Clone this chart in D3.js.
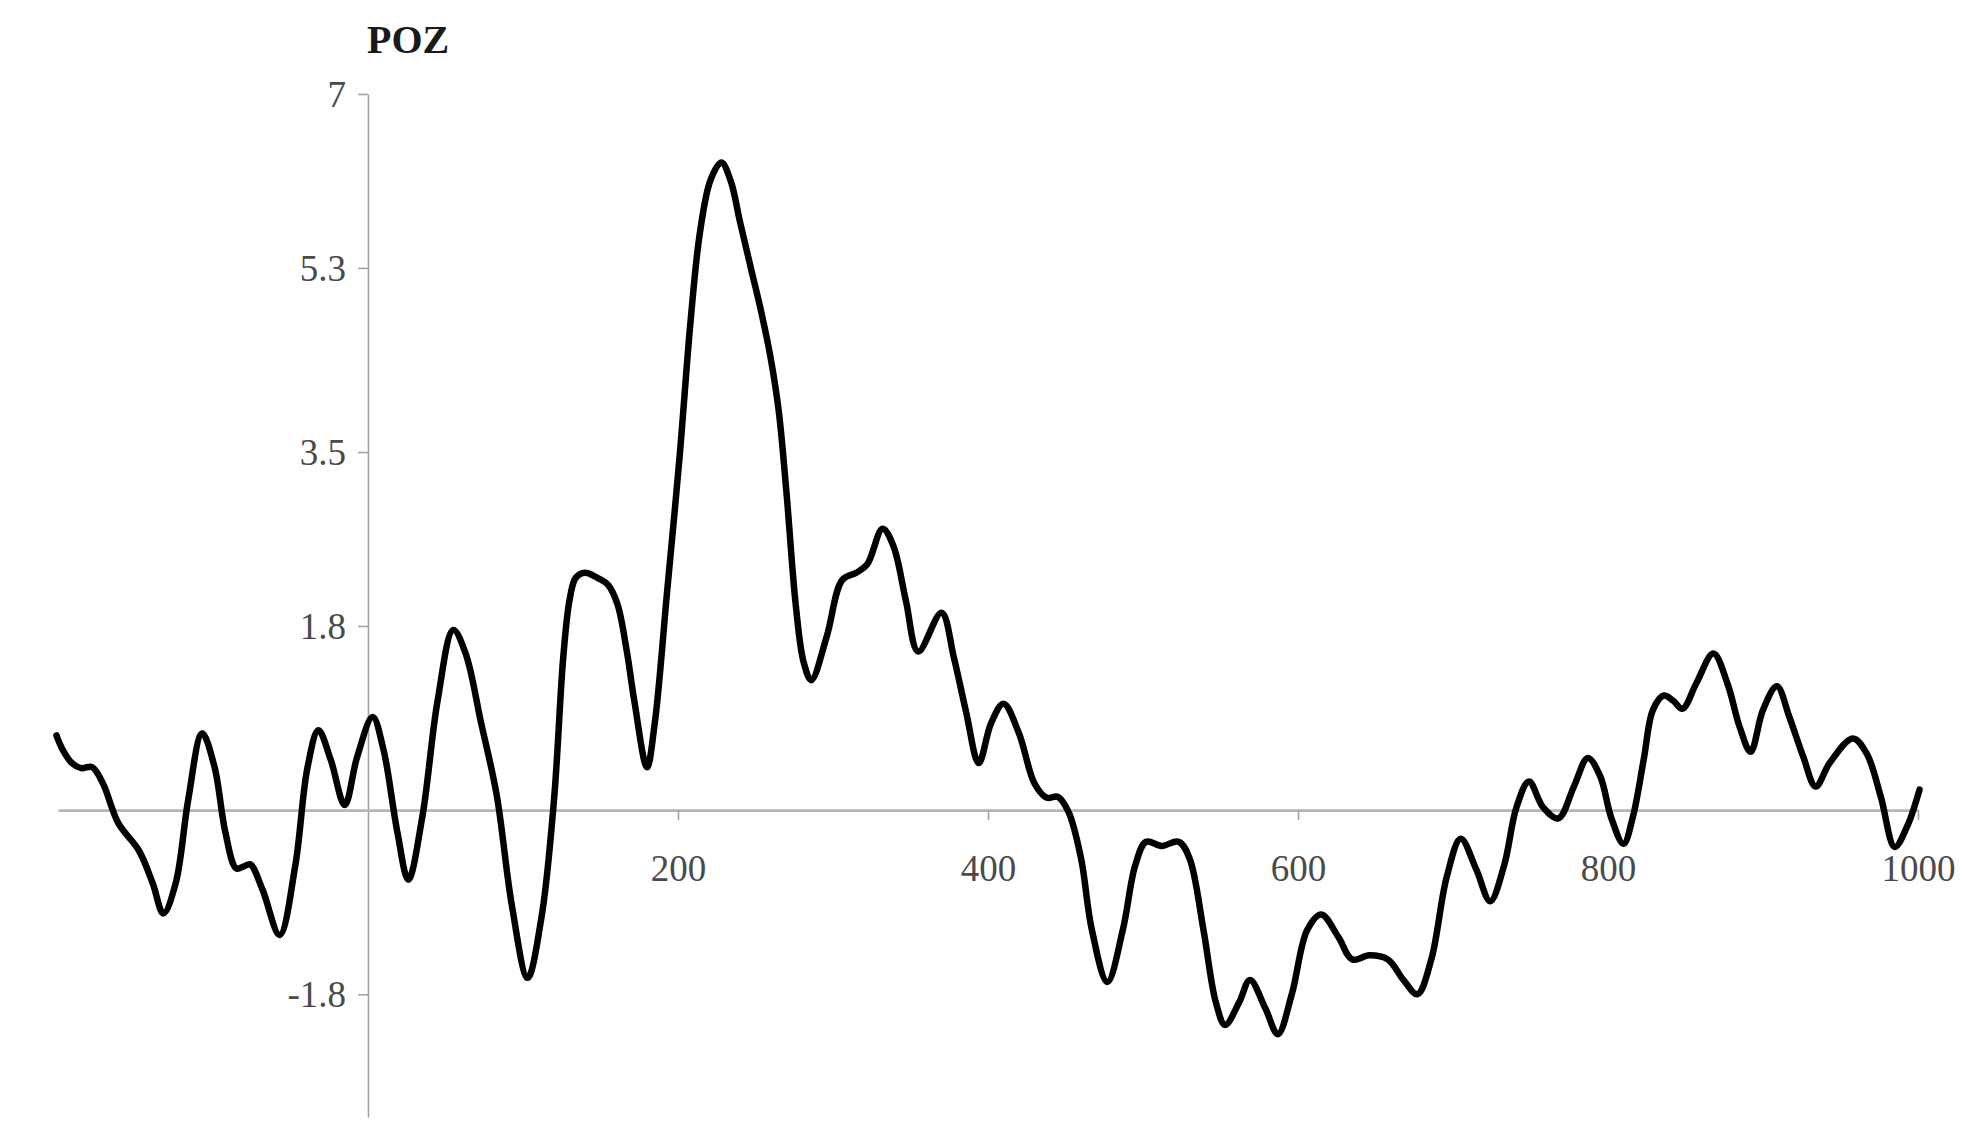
<!DOCTYPE html>
<html>
<head>
<meta charset="utf-8">
<script src="https://cdn.jsdelivr.net/npm/d3@7"></script>
<style>
  html, body { margin: 0; padding: 0; background: #fff; }
  svg { display: block; }
</style>
</head>
<body>
<svg id="chart" width="1983" height="1139"></svg>
<script>
// ---- data ----
const title = "POZ";
const times = [-201,-197,-191,-185,-178,-171,-161,-148,-139,-132,-124,-116,-107,-99,-92,-85,-80,-76,-68,-57,-47,-39,-32,-24,-15,-7,3,10,19,26,35,45,55,63,73,83,93,103,112,120,126,130,134,140,148,155,161,167,172,180,185,193,201,208,214,221,228,234,240,247,254,260,265,270,276,281,286,296,306,315,322,332,339,347,355,370,378,386,394,402,410,420,430,438,445,452,460,467,477,487,495,502,512,523,530,539,547,553,562,569,579,587,596,606,615,626,635,646,658,668,677,686,696,705,715,724,733,741,749,758,768,778,787,795,802,810,816,823,829,836,842,848,857,868,877,885,892,900,909,917,926,934,943,958,967,976,985,993,1001];
const values = [0.73,0.59,0.46,0.41,0.42,0.26,-0.13,-0.39,-0.71,-1.01,-0.71,0.10,0.75,0.42,-0.22,-0.57,-0.55,-0.53,-0.78,-1.22,-0.55,0.42,0.78,0.49,0.05,0.52,0.91,0.59,-0.22,-0.68,-0.07,1.08,1.76,1.53,0.85,0.15,-0.95,-1.64,-1.04,0.10,1.50,2.05,2.27,2.32,2.27,2.20,2.01,1.55,1.05,0.42,0.85,2.14,3.45,4.76,5.63,6.16,6.33,6.15,5.75,5.30,4.85,4.40,3.90,3.10,2.00,1.45,1.27,1.70,2.25,2.32,2.40,2.75,2.58,2.05,1.55,1.93,1.49,0.95,0.46,0.85,1.04,0.75,0.26,0.12,0.13,-0.02,-0.47,-1.17,-1.68,-1.17,-0.54,-0.31,-0.35,-0.31,-0.47,-1.17,-1.88,-2.10,-1.88,-1.66,-1.94,-2.19,-1.80,-1.17,-1.02,-1.24,-1.46,-1.42,-1.46,-1.66,-1.80,-1.46,-0.65,-0.28,-0.58,-0.89,-0.54,0.03,0.28,0.03,-0.08,0.23,0.51,0.33,-0.07,-0.33,-0.07,0.49,0.98,1.12,1.07,0.99,1.24,1.53,1.24,0.81,0.57,0.98,1.21,0.91,0.52,0.23,0.46,0.70,0.55,0.13,-0.36,-0.16,0.20];
const xTicks = [200, 400, 600, 800, 1000];
const yTicks = [7, 5.3, 3.5, 1.8, -1.8];
const xDomain = [-200, 1000];
const yDomain = [-3, 7];

// ---- drawing ----
const svg = d3.select("#chart");
const x = d3.scaleLinear().domain(xDomain).range([58, 1918]);
const y = d3.scaleLinear().domain(yDomain).range([1117, 94]);
const data = times.map((t, i) => ({ t, v: values[i] }));
const fmt = d => String(d);
const serif = "'Liberation Serif', 'Times New Roman', serif";

// y axis
const yAxis = svg.append("g")
  .attr("transform", `translate(${x(0)},0)`)
  .call(d3.axisLeft(y).tickValues(yTicks).tickFormat(fmt).tickSize(10).tickSizeOuter(0));
yAxis.select(".domain").attr("stroke", "#a3a3a3").attr("stroke-width", 1.6);
yAxis.selectAll(".tick line").attr("stroke", "#a3a3a3").attr("stroke-width", 1.6);
yAxis.selectAll(".tick text")
  .attr("x", -22).attr("dy", "0.34em")
  .attr("font-family", serif)
  .attr("font-size", 37).attr("fill", "#4a4a4a");

// x axis (zero line)
const xAxis = svg.append("g")
  .attr("transform", `translate(0,${y(0)})`)
  .call(d3.axisBottom(x).tickValues(xTicks).tickFormat(fmt).tickSize(10).tickSizeOuter(0));
xAxis.select(".domain").attr("stroke", "#bdb2b7").attr("stroke-width", 2.6);
xAxis.selectAll(".tick line").attr("stroke", "#a3a3a3").attr("stroke-width", 1.6);
xAxis.selectAll(".tick text")
  .attr("y", 58).attr("dy", "0.34em")
  .attr("font-family", serif)
  .attr("font-size", 37).attr("fill", "#4a4a4a");

// line
const line = d3.line()
  .x(d => x(d.t))
  .y(d => y(d.v))
  .curve(d3.curveCatmullRom.alpha(0.5));
svg.append("path")
  .datum(data)
  .attr("d", line)
  .attr("fill", "none")
  .attr("stroke", "#000")
  .attr("stroke-width", 6.5)
  .attr("stroke-linejoin", "round")
  .attr("stroke-linecap", "round");

// title
svg.append("text")
  .attr("x", x(0) - 1)
  .attr("y", 53)
  .attr("font-family", serif)
  .attr("font-weight", "bold")
  .attr("font-size", 40)
  .attr("fill", "#1a1a1a")
  .text(title);
</script>
</body>
</html>
